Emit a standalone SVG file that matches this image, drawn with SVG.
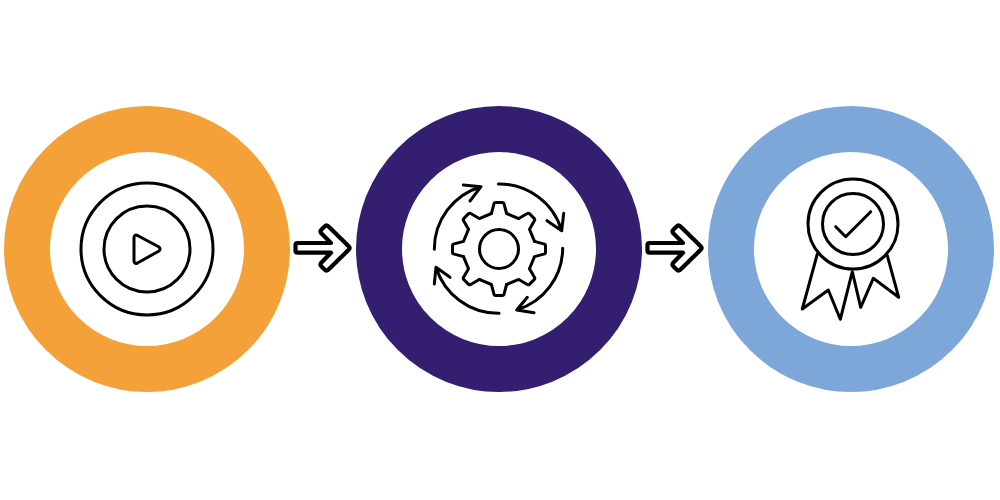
<svg xmlns="http://www.w3.org/2000/svg" xmlns:xlink="http://www.w3.org/1999/xlink" width="1000" height="500" viewBox="0 0 1000 500">
<style>
.ring{fill:none;stroke-width:46}
.ln{fill:none;stroke:#000;stroke-width:3;stroke-linecap:round;stroke-linejoin:round}
.arr{fill:#fff;stroke:#000;stroke-width:4.2;stroke-linejoin:round}
</style>
<defs>
<path id="link" d="M-7.6-35.5L-4.9-45.6Q-4.500-46.500-3.500-46.500L3.500-46.500Q4.500-46.500 4.900-45.600L7.600-35.500L19.730-30.470"/>
<path id="arrow" d="M297.500 243H331L321.500 233.500Q319.500 231.500 321.500 229.500L324.500 226.500Q326.500 224.500 328.500 226.500L348.500 246Q350.500 248 348.500 250L328.500 269.500Q326.500 271.500 324.500 269.500L321.500 266.500Q319.500 264.500 321.500 262.500L331 252.700H297.500Q295.500 252.700 295.500 250.700V245Q295.500 243 297.500 243Z"/>
</defs>
<rect width="1000" height="500" fill="#fff"/>
<g id="node-start">
<circle class="ring" cx="147" cy="249" r="120" stroke="#f4a13a"/>
<g class="ln">
<circle cx="147" cy="249" r="66"/>
<circle cx="147" cy="249" r="43"/>
<path d="M134 238Q134 234 137.500 235.500L159 247Q161 249 159 251L137.500 263Q134 264.500 134 260.500Z"/>
</g>
</g>
<g id="node-process">
<circle class="ring" cx="499" cy="249" r="120" stroke="#331e70"/>
<g class="ln">
<circle cx="499" cy="249" r="19.500"/>
<g id="gear">
<use xlink:href="#link" transform="translate(499 249)"/>
<use xlink:href="#link" transform="translate(499 249) rotate(45)"/>
<use xlink:href="#link" transform="translate(499 249) rotate(90)"/>
<use xlink:href="#link" transform="translate(499 249) rotate(135)"/>
<use xlink:href="#link" transform="translate(499 249) rotate(180)"/>
<use xlink:href="#link" transform="translate(499 249) rotate(225)"/>
<use xlink:href="#link" transform="translate(499 249) rotate(270)"/>
<use xlink:href="#link" transform="translate(499 249) rotate(315)"/>
</g>
<path d="M498.300 184A65 65 0 0 1 561.700 230.700M547 220.700L561.700 230.700L563.700 213.300"/>
<path d="M562.700 248.300A65 65 0 0 1 516.700 310M527.300 297.300L516.700 310L534 312.700"/>
<path d="M499 313.300A65 65 0 0 1 436 267.300M450 277.300L436 267.300L434.300 284"/>
<path d="M434.300 249.300A65 65 0 0 1 481 186.700M463.300 185L481 186.700L470 201"/>
</g>
</g>
<g id="node-result">
<circle class="ring" cx="851" cy="249" r="120" stroke="#7da7d9"/>
<g class="ln">
<circle cx="853" cy="224" r="45"/>
<circle cx="853" cy="224" r="30.500"/>
<path d="M835.700 226.700L845.700 236.700L870.700 211.700"/>
<path d="M817.300 254L802.300 309L828.300 290L840.300 319.300L852.300 271.700L860.700 307.300L873.300 278.300L898.700 297.300L887.300 255.700"/>
</g>
</g>
<g id="connectors">
<use xlink:href="#arrow" class="arr"/>
<use xlink:href="#arrow" class="arr" transform="translate(352 0)"/>
</g>
</svg>
